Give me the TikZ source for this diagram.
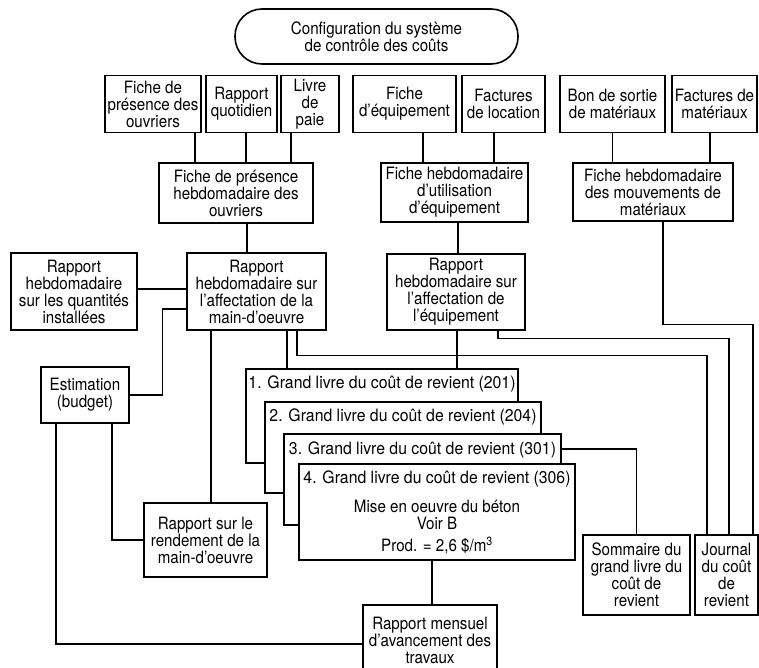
\documentclass[tikz,border=0pt]{standalone}
\usepackage{fontspec}
\setmainfont{TeX Gyre Heros}[FakeStretch=0.89]
\newfontfamily\ledgerfont{TeX Gyre Heros}[FakeStretch=0.93]
\tikzset{
  box/.style={draw, line width=1.6pt, fill=white, align=center, inner sep=1pt,
    font=\fontsize{17}{17}\selectfont},
  conn/.style={line width=1.2pt},
  lt/.style={inner sep=0pt, font=\fontsize{17}{17}\selectfont\ledgerfont},
  body/.style={inner sep=0pt, align=center, font=\fontsize{17}{17}\selectfont}
}
\begin{document}
\begin{tikzpicture}[x=1pt, y=-1pt]
\useasboundingbox (0,0) rectangle (759,668);
\clip (0,0) rectangle (759,668);
\fill[white] (0,0) rectangle (759,668);

% top
\node[box, minimum width=283, minimum height=55, rounded corners=27pt] (cfg) at (376.5,36.5) {Configuration du système\\de contrôle des coûts};

% row 1
\node[box, minimum width=96, minimum height=57] (fp) at (153,104) {Fiche de\\présence des\\ouvriers};
\node[box, minimum width=71, minimum height=57] (rq) at (241.5,104) {Rapport\\quotidien};
\node[box, minimum width=58, minimum height=57] (lp) at (310,104) {Livre\\de\\paie};
\node[box, minimum width=103, minimum height=57] (fe) at (404.5,104) {Fiche\\d'équipement};
\node[box, minimum width=83, minimum height=57] (fl) at (503.5,104) {Factures\\de location};
\node[box, minimum width=105, minimum height=57] (bs) at (612.5,104) {Bon de sortie\\de matériaux};
\node[box, minimum width=85, minimum height=57] (fm) at (714.5,104) {Factures de\\matériaux};

% row 2
\node[box, minimum width=154, minimum height=60] (fph) at (236,193) {Fiche de présence\\hebdomadaire des\\ouvriers};
\node[box, minimum width=147, minimum height=59] (fhe) at (454.5,192.5) {Fiche hebdomadaire\\d'utilisation\\d'équipement};
\node[box, minimum width=160, minimum height=58] (fhm) at (653,192) {Fiche hebdomadaire\\des mouvements de\\matériaux};

% row 3
\node[box, minimum width=126, minimum height=77] (qi) at (74,291.5) {Rapport\\hebdomadaire\\sur les quantités\\installées};
\node[box, minimum width=139, minimum height=77] (rmo) at (256.5,291.5) {Rapport\\hebdomadaire sur\\l'affectation de la\\main-d'oeuvre};
\node[box, minimum width=138, minimum height=76] (req) at (456,292) {Rapport\\hebdomadaire sur\\l'affectation de\\l'équipement};

\node[box, minimum width=88, minimum height=56] (est) at (85,395) {Estimation\\(budget)};
\node[box, minimum width=123, minimum height=74] (rend) at (205.5,540) {Rapport sur le\\rendement de la\\main-d'oeuvre};

% ledgers
\node[box, minimum width=272, minimum height=94] (L1) at (382,416) {};
\node[lt] (t1) at ([yshift=-16]L1.north) {1. Grand livre du coût de revient (201)};
\node[box, minimum width=276, minimum height=91] (L2) at (403,447.5) {};
\node[lt] (t2) at ([yshift=-16]L2.north) {2. Grand livre du coût de revient (204)};
\node[box, minimum width=277, minimum height=91] (L3) at (422.5,479.5) {};
\node[lt] (t3) at ([yshift=-17]L3.north) {3. Grand livre du coût de revient (301)};
\node[box, minimum width=276, minimum height=96] (L4) at (437,512) {};
\node[lt] (t4) at ([yshift=-16]L4.north) {4. Grand livre du coût de revient (306)};
\node[body] (b4) at (437,527) {Mise en oeuvre du béton\\Voir B\\[5pt]Prod. = 2,6 \$/m\textsuperscript{3}};

\node[box, minimum width=107, minimum height=80] (sm) at (636.5,575) {Sommaire du\\grand livre du\\coût de\\revient};
\node[box, minimum width=63, minimum height=80] (jr) at (726.5,575) {Journal\\du coût\\de\\revient};
\node[box, minimum width=134, minimum height=70] (rm) at (430,640) {Rapport mensuel\\d'avancement des\\travaux};

% connectors
\draw[conn] ([xshift=42]fp.south) -- ([xshift=42]fp.south |- fph.north);
\draw[conn] ([xshift=4.5]rq.south) -- ([xshift=4.5]rq.south |- fph.north);
\draw[conn] ([xshift=-19]lp.south) -- ([xshift=-19]lp.south |- fph.north);
\draw[conn] ([xshift=18.5]fe.south) -- ([xshift=18.5]fe.south |- fhe.north);
\draw[conn] ([xshift=-9.5]fl.south) -- ([xshift=-9.5]fl.south |- fhe.north);
\draw[conn] (bs.south) -- (bs.south |- fhm.north);
\draw[conn] ([xshift=-4.5]fm.south) -- ([xshift=-4.5]fm.south |- fhm.north);
\draw[conn] ([xshift=11]fph.south) -- ([xshift=11]fph.south |- rmo.north);
\draw[conn] ([xshift=3.5]fhe.south) -- ([xshift=3.5]fhe.south |- req.north);
\draw[conn] ([xshift=10]fhm.south) -- ++(0,103) -| ([xshift=26.5]jr.north);
\draw[conn] ([yshift=2.5]qi.east) -- ([yshift=2.5]qi.east -| rmo.west);
\draw[conn] (est.east) -- ++(33,0) |- ([yshift=-17.5]rmo.west);
\draw[conn] ([xshift=-45.5]rmo.south) -- ([xshift=-45.5]rmo.south |- rend.north);
\draw[conn] ([xshift=30.5]rmo.south) -- ([xshift=30.5]rmo.south |- L1.north);
\draw[conn] ([xshift=40.5]rmo.south) -- ++(0,25) -| ([xshift=-19.5]jr.north);
\draw[conn] ([xshift=42]req.south) -- ++(0,8) -| ([xshift=2.5]jr.north);
\draw[conn] ([xshift=1]req.south) -- ([xshift=1]req.south |- L1.north);
\draw[conn] ([yshift=30.5]L3.east) -| (sm.north);
\draw[conn] ([xshift=-5]L4.south) -- ([xshift=-5]L4.south |- rm.north);
\draw[conn] ([xshift=27]est.south) |- (rend.west);
\draw[conn] ([xshift=-29]est.south) |- ([yshift=-4]rm.west);
\end{tikzpicture}
\end{document}
